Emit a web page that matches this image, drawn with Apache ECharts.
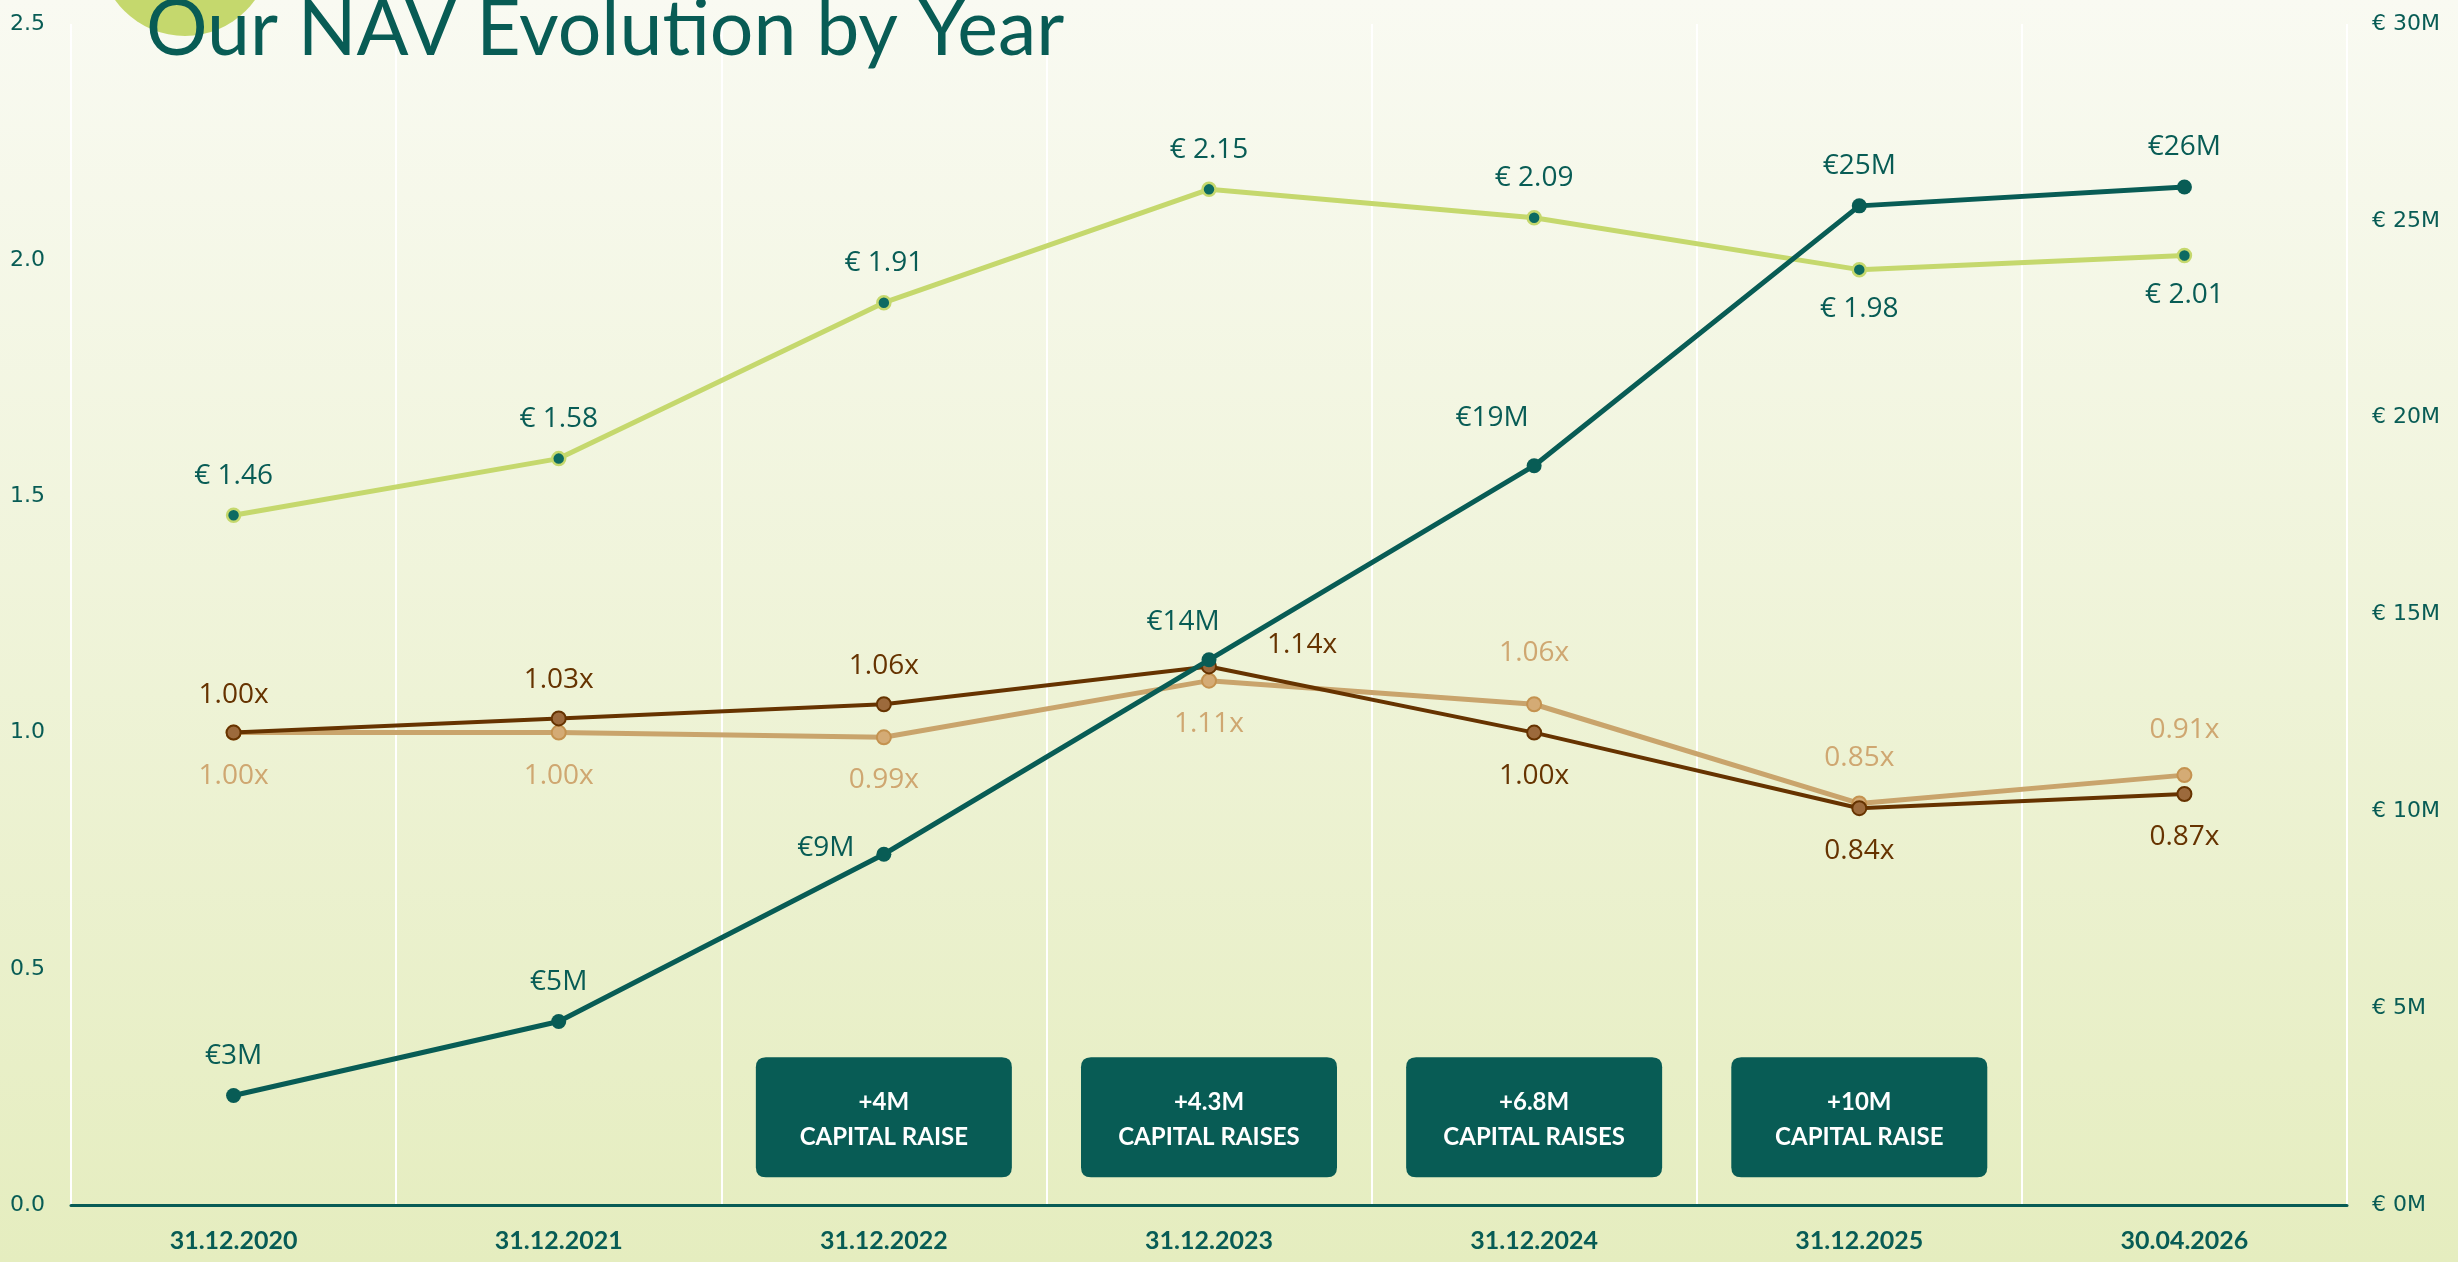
<!DOCTYPE html>
<html>
<head>
<meta charset="utf-8">
<script src="https://cdn.jsdelivr.net/npm/echarts@6/dist/echarts.min.js"></script>
<style>
  html, body { margin: 0; padding: 0; }
  #chart { width: 2458px; height: 1262px; }
</style>
</head>
<body>
<div id="chart"></div>
<script>
// data
var dates = ['31.12.2020', '31.12.2021', '31.12.2022', '31.12.2023', '31.12.2024', '31.12.2025', '30.04.2026']
var navPerShare = [1.46, 1.58, 1.91, 2.15, 2.09, 1.98, 2.01]
var aum = [2.78, 4.66, 8.91, 13.85, 18.78, 25.38, 25.86]
var aumLabels = ['€3M', '€5M', '€9M', '€14M', '€19M', '€25M', '€26M']
var multipleDark = [1.00, 1.03, 1.06, 1.14, 1.00, 0.84, 0.87]
var multipleLight = [1.00, 1.00, 0.99, 1.11, 1.06, 0.85, 0.91]
var raiseDates = ['31.12.2022', '31.12.2023', '31.12.2024', '31.12.2025']
var raiseAmounts = ['+4M', '+4.3M', '+6.8M', '+10M']
var raiseTexts = ['CAPITAL RAISE', 'CAPITAL RAISES', 'CAPITAL RAISES', 'CAPITAL RAISE']
var raiseLevel = 0.186

var teal = '#085c55'
var green = '#c5d86d'
var brown = '#663300'
var tan = '#c9a46c'
var labelFont = 'Open Sans'
var labelSize = 28

// box with small rounded corners (roundRect symbol is too round)
var boxPath = 'path://M10,0 H246 Q256,0 256,10 V110 Q256,120 246,120 H10 Q0,120 0,110 V10 Q0,0 10,0 Z'

var chart = echarts.init(document.getElementById('chart'))

function navData() {
  return navPerShare.map(function(v, i) {
    var below = i >= 5
    return {
      value: v,
      label: { position: below ? 'bottom' : 'top' }
    }
  })
}

function aumData() {
  var pos = ['top', 'top', 'left', 'top', 'top', 'top', 'top']
  var off = [[0, 0], [0, 0], [-4, -6], [-26, 2], [-42, -8], [0, 0], [0, 0]]
  return aum.map(function(v, i) {
    return { value: v, label: { position: pos[i], offset: off[i] } }
  })
}

function darkData() {
  return multipleDark.map(function(v, i) {
    if (i === 3) {
      return { value: v, label: { position: 'right', distance: 50, offset: [0, -21] } }
    }
    return { value: v, label: { position: i < 3 ? 'top' : 'bottom', distance: i < 3 ? 16 : 21 } }
  })
}

function lightData() {
  return multipleLight.map(function(v, i) {
    var above = i >= 4
    return {
      value: v,
      label: { position: above ? 'top' : 'bottom', distance: above ? 23 : 21, offset: i === 4 ? [0, -6] : [0, 0] }
    }
  })
}

var option = {
  animation: false,
  graphic: [
    {
      type: 'rect',
      z: -100,
      silent: true,
      shape: { x: 0, y: 0, width: 2458, height: 1262 },
      style: {
        fill: new echarts.graphic.LinearGradient(0, 0, 0, 1, [
          { offset: 0, color: '#f9faf2' },
          { offset: 1, color: '#e5edbf' }
        ])
      }
    },
    {
      type: 'circle',
      z: 1,
      silent: true,
      shape: { cx: 185, cy: -50, r: 86 },
      style: { fill: green }
    },
    {
      type: 'text',
      z: 2,
      left: 146,
      top: -8,
      style: {
        text: 'Our NAV Evolution by Year',
        fill: teal,
        font: '77px Lato'
      }
    }
  ],
  grid: {
    left: 71,
    right: 111,
    top: 24,
    bottom: 57
  },
  xAxis: {
    type: 'category',
    data: dates,
    boundaryGap: true,
    axisLine: { lineStyle: { color: teal, width: 3 } },
    axisTick: { show: false },
    axisLabel: {
      color: teal,
      fontFamily: 'Lato',
      fontWeight: 'bold',
      fontSize: 25,
      margin: 23
    },
    splitLine: { show: true, lineStyle: { color: '#ffffff', width: 2 } }
  },
  yAxis: [
    {
      type: 'value',
      min: 0,
      max: 2.5,
      interval: 0.5,
      axisLine: { show: false },
      axisTick: { show: false },
      splitLine: { show: false },
      axisLabel: {
        color: teal,
        fontFamily: 'DejaVu Sans',
        fontSize: 22,
        margin: 26,
        formatter: function(v) { return v.toFixed(1) }
      }
    },
    {
      type: 'value',
      min: 0,
      max: 30,
      interval: 5,
      axisLine: { show: false },
      axisTick: { show: false },
      splitLine: { show: false },
      axisLabel: {
        color: teal,
        fontFamily: 'DejaVu Sans',
        fontSize: 22,
        margin: 25,
        formatter: '€ {value}M'
      }
    }
  ],
  series: [
    {
      name: 'NAV per share',
      type: 'line',
      yAxisIndex: 0,
      data: navData(),
      symbol: 'circle',
      symbolSize: 13,
      lineStyle: { color: green, width: 5 },
      itemStyle: { color: '#0d6b62', borderColor: green, borderWidth: 2.5 },
      label: {
        show: true,
        distance: 18,
        color: teal,
        fontFamily: labelFont,
        fontSize: labelSize,
        formatter: function(p) { return '€ ' + p.value.toFixed(2) }
      },
      z: 2
    },
    {
      name: 'Multiple light',
      type: 'line',
      yAxisIndex: 0,
      data: lightData(),
      symbol: 'circle',
      symbolSize: 14,
      lineStyle: { color: tan, width: 5 },
      itemStyle: { color: '#d4ab75', borderColor: '#c4924f', borderWidth: 2 },
      label: {
        show: true,
        color: '#cfa771',
        fontFamily: labelFont,
        fontSize: labelSize,
        formatter: function(p) { return p.value.toFixed(2) + 'x' }
      },
      z: 3
    },
    {
      name: 'Multiple dark',
      type: 'line',
      yAxisIndex: 0,
      data: darkData(),
      symbol: 'circle',
      symbolSize: 14,
      lineStyle: { color: brown, width: 4 },
      itemStyle: { color: '#9c6a3c', borderColor: brown, borderWidth: 2 },
      label: {
        show: true,
        color: brown,
        fontFamily: labelFont,
        fontSize: labelSize,
        formatter: function(p) { return p.value.toFixed(2) + 'x' }
      },
      z: 4
    },
    {
      name: 'AUM',
      type: 'line',
      yAxisIndex: 1,
      data: aumData(),
      symbol: 'circle',
      symbolSize: 15,
      lineStyle: { color: teal, width: 5 },
      itemStyle: { color: teal },
      label: {
        show: true,
        distance: 18,
        color: teal,
        fontFamily: labelFont,
        fontSize: labelSize,
        formatter: function(p) { return aumLabels[p.dataIndex] }
      },
      z: 5
    },
    {
      name: 'Capital raises',
      type: 'scatter',
      yAxisIndex: 0,
      data: raiseDates.map(function(d) { return [d, raiseLevel] }),
      symbol: boxPath,
      symbolKeepAspect: false,
      symbolSize: [256, 120],
      itemStyle: { color: teal, opacity: 1 },
      label: {
        show: true,
        position: 'inside',
        offset: [0, 3],
        formatter: function(p) {
          return '{a|' + raiseAmounts[p.dataIndex] + '}\n{b|' + raiseTexts[p.dataIndex] + '}'
        },
        rich: {
          a: { color: '#ffffff', fontFamily: 'Lato', fontWeight: 'bold', fontSize: 24, lineHeight: 35 },
          b: { color: '#ffffff', fontFamily: 'Lato', fontWeight: 'bold', fontSize: 24, lineHeight: 35 }
        }
      },
      emphasis: { disabled: true },
      z: 6
    }
  ]
}

chart.setOption(option)
</script>
</body>
</html>
